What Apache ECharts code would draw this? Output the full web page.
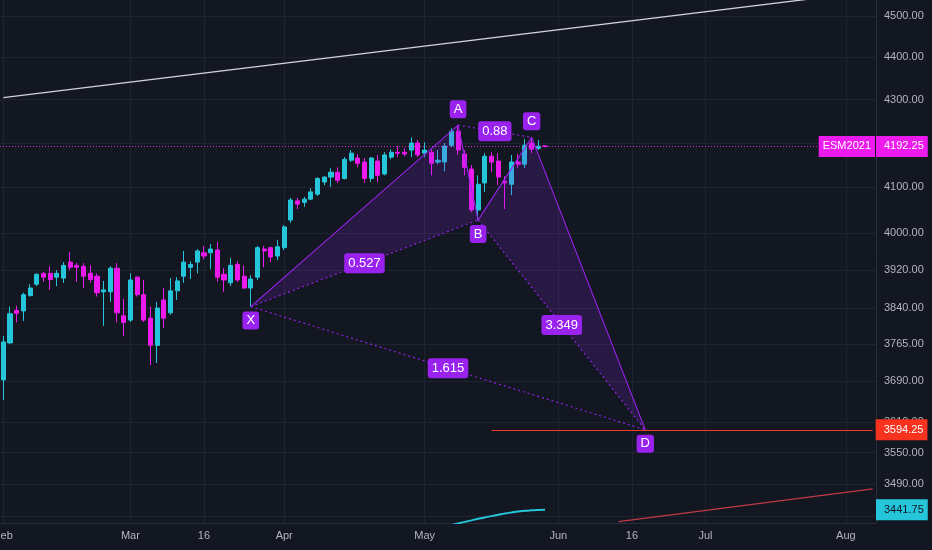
<!DOCTYPE html>
<html>
<head>
  <meta charset="utf-8">
  <script src="https://cdn.jsdelivr.net/npm/echarts@6/dist/echarts.min.js"></script>
  <style>
    html, body { margin: 0; padding: 0; background: #131722; }
    #main { width: 932px; height: 550px; }
  </style>
</head>
<body>
<div id="main"></div>
<script>
// trading days shown on the axis (holidays left out, like the exchange calendar)
var febDays = [1, 2, 3, 4, 5, 8, 9, 10, 11, 12, 16, 17, 18, 19, 22, 23, 24, 25, 26];
var marDays = [1, 2, 3, 4, 5, 8, 9, 10, 11, 12, 15, 16, 17, 18, 19, 22, 23, 24, 25, 26, 29, 30, 31];
var aprDays = [1, 5, 6, 7, 8, 9, 12, 13, 14, 15, 16, 19, 20, 21, 22, 23, 26, 27, 28, 29, 30];
var mayDays = [3, 4, 5, 6, 7, 10, 11, 12, 13, 14, 17, 18, 19, 20, 21, 24, 25, 26, 27, 28];
var junDays = [1, 2, 3, 4, 7, 8, 9, 10, 11, 14, 15, 16, 17, 18, 21, 22, 23, 24, 25, 28, 29, 30];
var julDays = [1, 2, 6, 7, 8, 9, 12, 13, 14, 15, 16, 19, 20, 21, 22, 23, 26, 27, 28, 29, 30];
var augDays = [2, 3, 4, 5, 6];

var labelDates = ['02-01', '03-01', '03-16', '04-01', '05-03', '06-01', '06-16', '07-01', '08-02'];
var tickLabels = ['Feb', 'Mar', '16', 'Apr', 'May', 'Jun', '16', 'Jul', 'Aug'];

var priceTicks = [3430, 3490, 3550, 3610, 3690, 3765, 3840, 3920, 4000, 4100, 4200, 4300, 4400, 4500];

// daily candles, Feb 1 .. May 27
var opens = [
  3693, 3768, 3835, 3834, 3866, 3890, 3913, 3913, 3905, 3903, 3937, 3930, 3928, 3913, 3907, 3874, 3874, 3924, 3824,
  3815, 3905, 3868, 3819, 3763, 3857, 3830, 3876, 3907, 3926, 3937, 3957, 3957, 3963, 3911, 3893, 3932, 3907, 3882, 3905, 3965, 3968, 3950,
  3968, 4028, 4070, 4067, 4074, 4085, 4112, 4123, 4134, 4120, 4161, 4166, 4157, 4120, 4159, 4130, 4168, 4179, 4179, 4184, 4200,
  4177, 4179, 4157, 4157, 4195, 4227, 4175, 4141, 4050, 4110, 4170, 4159, 4114, 4107, 4157, 4152, 4200, 4188, 4193.5
];
var highs = [
  3782, 3843, 3845, 3872, 3890, 3913, 3916, 3928, 3920, 3937, 3959, 3935, 3935, 3930, 3913, 3897, 3928, 3935, 3859,
  3913, 3907, 3899, 3843, 3853, 3882, 3903, 3905, 3961, 3939, 3965, 3972, 3976, 3980, 3924, 3946, 3939, 3930, 3909, 3972, 3972, 3970, 3985,
  4017, 4077, 4077, 4079, 4098, 4123, 4125, 4143, 4145, 4168, 4184, 4175, 4166, 4168, 4173, 4179, 4186, 4193, 4188, 4213, 4207,
  4202, 4186, 4184, 4200, 4234, 4241, 4184, 4150, 4127, 4177, 4179, 4177, 4125, 4173, 4175, 4209, 4213, 4207, 4195
];
var lows = [
  3653, 3766, 3810, 3813, 3864, 3886, 3895, 3878, 3886, 3893, 3920, 3895, 3882, 3893, 3864, 3803, 3853, 3810, 3782,
  3811, 3864, 3811, 3723, 3727, 3799, 3826, 3857, 3893, 3901, 3913, 3943, 3922, 3895, 3874, 3886, 3895, 3880, 3843, 3899, 3926, 3937, 3941,
  3963, 4022, 4052, 4057, 4072, 4081, 4105, 4101, 4110, 4118, 4157, 4145, 4110, 4112, 4112, 4127, 4163, 4168, 4170, 4168, 4168,
  4168, 4127, 4152, 4136, 4191, 4173, 4127, 4045, 4028, 4090, 4134, 4105, 4052, 4083, 4143, 4143, 4177, 4184, 4190
];
var closes = [
  3770, 3828, 3829, 3868, 3882, 3911, 3905, 3900, 3913, 3930, 3926, 3926, 3907, 3900, 3872, 3878, 3924, 3830, 3810,
  3899, 3868, 3815, 3763, 3840, 3819, 3876, 3897, 3937, 3932, 3961, 3950, 3965, 3905, 3899, 3930, 3899, 3882, 3901, 3968, 3961, 3948, 3970,
  4013, 4072, 4063, 4074, 4090, 4120, 4123, 4134, 4116, 4163, 4177, 4154, 4120, 4166, 4127, 4173, 4179, 4177, 4175, 4200, 4173,
  4184, 4154, 4161, 4193, 4227, 4184, 4145, 4050, 4107, 4170, 4157, 4123, 4110, 4157, 4152, 4195, 4186, 4193, 4192.25
];

// moving average (only its top end is inside the view)
var maDates = ['05-06', '05-07', '05-10', '05-11', '05-12', '05-13', '05-14', '05-17', '05-18', '05-19', '05-20', '05-21', '05-24', '05-25', '05-26', '05-27'];
var maValues = [3410.2, 3413.3, 3416.1, 3419.0, 3421.8, 3424.7, 3427.3, 3429.7, 3432.1, 3434.5, 3436.6, 3438.5, 3439.5, 3440.5, 3441.2, 3441.75];

// trend lines
var whiteTrendDates = ['02-01', '08-06'];
var whiteTrendValues = [4304.9, 4560.8];
var redTrendDates = ['06-14', '08-06'];
var redTrendValues = [3419.6, 3480.7];

// XABCD pattern
var patternNames = ['X', 'A', 'B', 'C', 'D'];
var patternDates = ['03-25', '05-10', '05-13', '05-25', '06-18'];
var patternPrices = [3843, 4241, 4028, 4213, 3594.25];
var ratioLabels = ['0.527', '0.88', '3.349', '1.615']; // XB, AC, BD, XD

var lastPrice = 4192.25;
var targetPrice = 3594.25;
var targetFrom = '05-17';
var maLast = 3441.75;
var symbolName = 'ESM2021';

var yMin = 3416.9, yMax = 4539.3;

var UP = '#26c6da', DOWN = '#ec1aec', VIOLET = '#9a22ee';
var FONT = '"Liberation Sans", Arial, sans-serif';

var dates = [];
function addMonth(m, days) {
  days.forEach(function (d) { dates.push(m + '-' + (d < 10 ? '0' : '') + d); });
}
addMonth('02', febDays); addMonth('03', marDays); addMonth('04', aprDays);
addMonth('05', mayDays); addMonth('06', junDays); addMonth('07', julDays); addMonth('08', augDays);

var L = Math.log;
var candleData = opens.map(function (o, i) {
  return [L(o), L(closes[i]), L(lows[i]), L(highs[i])];
});
function pairs(ds, vs) {
  return ds.map(function (d, i) { return [d, L(vs[i])]; });
}
var showDate = function (i, v) { return labelDates.indexOf(v) >= 0; };

function tag(text, bg, fg, pos, dist, padLeft) {
  return {
    show: true, position: pos, distance: dist,
    formatter: function () { return text; },
    backgroundColor: bg, color: fg, fontSize: 11, fontFamily: FONT,
    padding: [5, 4, 4, padLeft], lineHeight: 12
  };
}
var HIDDEN = { color: 'rgba(0,0,0,0)' };

var chart = echarts.init(document.getElementById('main'));
chart.setOption({
  backgroundColor: '#131722',
  animation: false,
  grid: { left: 0, right: 56, top: 0, bottom: 27, containLabel: false, outerBoundsMode: 'none' },
  xAxis: {
    type: 'category', data: dates, boundaryGap: true,
    axisLine: { show: true, lineStyle: { color: '#2a2e39' } },
    axisTick: { show: false },
    axisLabel: {
      interval: showDate, margin: 7, color: '#b2b5be', fontSize: 11, fontFamily: FONT,
      formatter: function (v) { return tickLabels[labelDates.indexOf(v)]; }
    },
    splitLine: { show: true, interval: showDate, alignWithLabel: true, lineStyle: { color: '#1f2330' } }
  },
  yAxis: {
    type: 'value', position: 'right', min: L(yMin), max: L(yMax),
    axisLine: { show: true, lineStyle: { color: '#2a2e39' } },
    axisTick: { show: false, customValues: priceTicks.map(L) },
    axisLabel: {
      customValues: priceTicks.map(L), margin: 8, color: '#b2b5be', fontSize: 11, fontFamily: FONT,
      formatter: function (v) { return Math.exp(v).toFixed(2); }
    },
    splitLine: { show: true, lineStyle: { color: '#1f2330' } }
  },
  series: [
    {
      type: 'line', data: pairs(whiteTrendDates, whiteTrendValues), symbol: 'none', silent: true,
      lineStyle: { color: '#d1d4dc', width: 1.3 }, z: 1
    },
    {
      type: 'line', data: pairs(redTrendDates, redTrendValues), symbol: 'none', silent: true,
      lineStyle: { color: '#c23b45', width: 1.3 }, z: 1
    },
    {
      type: 'line', data: pairs(maDates, maValues), symbol: 'none', silent: true, smooth: true,
      lineStyle: { color: UP, width: 2 }, z: 2,
      markLine: {
        silent: true, symbol: ['none', 'none'], precision: 10,
        data: [{ yAxis: L(maLast), lineStyle: HIDDEN, label: tag(maLast.toFixed(2), UP, '#131722', 'end', 0, 8) }]
      }
    },
    {
      type: 'candlestick', data: candleData, barWidth: 4.6, silent: true, z: 3,
      itemStyle: { color: UP, color0: DOWN, borderColor: UP, borderColor0: DOWN, borderWidth: 1 },
      markLine: {
        silent: true, symbol: ['none', 'none'], precision: 10,
        data: [
          { yAxis: L(lastPrice), lineStyle: { color: '#d42bd4', type: [1, 2], width: 1 },
            label: tag(lastPrice.toFixed(2), DOWN, '#ffffff', 'end', 0, 8) },
          { yAxis: L(lastPrice), lineStyle: HIDDEN,
            label: tag(symbolName, DOWN, '#ffffff', 'insideEnd', 1, 4) },
          [
            { coord: [targetFrom, L(targetPrice)], lineStyle: { color: '#f23a2a', type: 'solid', width: 1 },
              label: tag(targetPrice.toFixed(2), '#f7321e', '#ffffff', 'end', 3, 8) },
            { coord: [dates[dates.length - 1], L(targetPrice)] }
          ]
        ]
      }
    },
    {
      type: 'custom', z: 4, silent: true,
      data: [[dates.indexOf(patternDates[0]), L(patternPrices[0])]],
      encode: { x: 0, y: 1 },
      renderItem: function (params, api) {
        var p = patternDates.map(function (d, i) {
          return api.coord([dates.indexOf(d), L(patternPrices[i])]);
        });
        var X = p[0], A = p[1], B = p[2], C = p[3], D = p[4];
        var kids = [];
        var fill = 'rgba(150, 34, 240, 0.17)';
        kids.push({ type: 'polygon', shape: { points: [X, A, B] }, style: { fill: fill } });
        kids.push({ type: 'polygon', shape: { points: [B, C, D] }, style: { fill: fill } });
        kids.push({ type: 'polyline', shape: { points: p }, style: { stroke: VIOLET, lineWidth: 1.1, fill: null } });
        var dotted = [[X, B], [A, C], [B, D], [X, D]];
        dotted.forEach(function (seg) {
          kids.push({ type: 'line', shape: { x1: seg[0][0], y1: seg[0][1], x2: seg[1][0], y2: seg[1][1] },
            style: { stroke: VIOLET, lineWidth: 1.1, lineDash: [2, 3] } });
        });
        dotted.forEach(function (seg, k) {
          kids.push({ type: 'text', x: (seg[0][0] + seg[1][0]) / 2, y: (seg[0][1] + seg[1][1]) / 2,
            style: { text: ratioLabels[k], fill: '#ffffff', font: '13px ' + FONT,
              align: 'center', verticalAlign: 'middle', textAlign: 'center', textVerticalAlign: 'middle',
              backgroundColor: VIOLET, padding: [4, 4, 3, 4], borderRadius: 3 } });
        });
        p.forEach(function (pt, i) {
          var prev = i > 0 ? patternPrices[i - 1] : patternPrices[i + 1];
          var above = patternPrices[i] > prev;
          kids.push({ type: 'text', x: pt[0], y: pt[1] + (above ? -16 : 14),
            style: { text: patternNames[i], fill: '#ffffff', font: '13px ' + FONT,
              align: 'center', verticalAlign: 'middle', textAlign: 'center', textVerticalAlign: 'middle',
              backgroundColor: VIOLET, padding: [3, 4, 2, 4], borderRadius: 3 } });
        });
        return { type: 'group', children: kids };
      }
    }
  ]
});
</script>
</body>
</html>
